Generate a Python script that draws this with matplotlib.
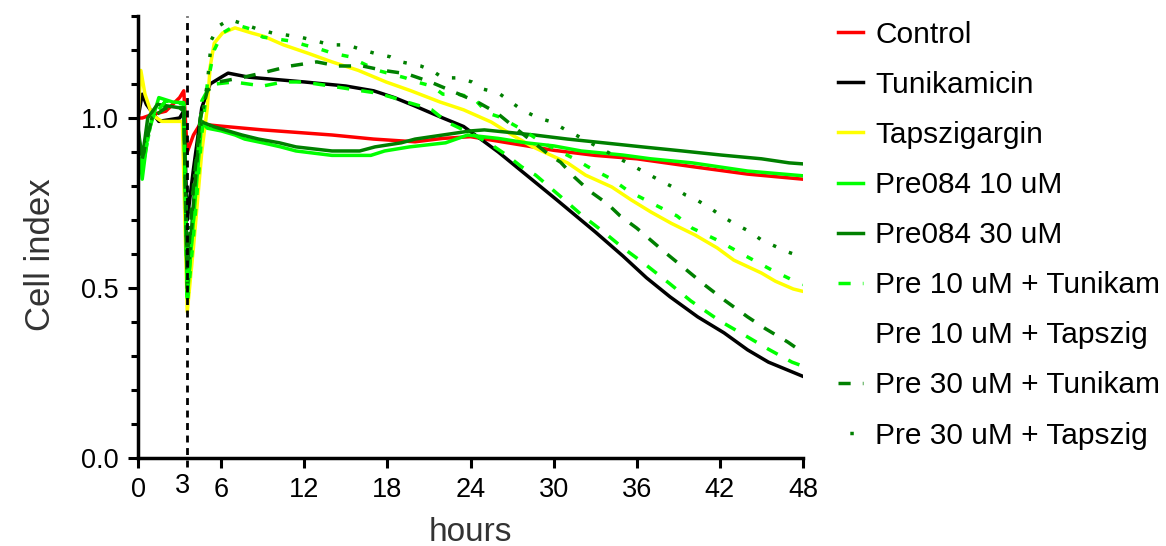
import matplotlib
matplotlib.use('Agg')
import matplotlib.pyplot as plt
from matplotlib.lines import Line2D

plt.rcParams['font.family'] = ['Liberation Sans', 'DejaVu Sans']

# ─── DATA ─────────────────────────────────────────────────────────────────
control_h = [0, 0.3, 1, 2, 3, 3.3, 3.55, 4.0, 4.6, 5, 6, 9, 14, 17, 20, 22, 24, 27, 30, 33, 36, 40, 44, 48]
control_v = [1.0, 1.0, 1.01, 1.02, 1.06, 1.08, 0.9, 0.95, 0.99, 0.98, 0.976, 0.965, 0.95, 0.938, 0.93, 0.94,
             0.945, 0.925, 0.905, 0.89, 0.88, 0.857, 0.835, 0.82]

tunik_h = [0, 0.3, 0.6, 1.5, 3, 3.3, 3.55, 4.0, 4.6, 5.2, 6, 6.5, 8, 12, 15, 17, 18.5, 20, 22, 23.5, 25, 26,
           28.4, 30.2, 33, 35, 36.7, 38.4, 40.4, 42.3, 44, 45.5, 48]
tunik_v = [1.0, 1.07, 1.04, 0.99, 1.0, 1.02, 0.7, 0.85, 1.03, 1.1, 1.12, 1.132, 1.12, 1.106, 1.094, 1.08, 1.06,
           1.035, 1.0, 0.975, 0.93, 0.9, 0.82, 0.76, 0.665, 0.594, 0.53, 0.474, 0.415, 0.368, 0.318, 0.282, 0.24]

taps_h = [0, 0.2, 0.5, 1, 1.7, 3.2, 3.55, 4.0, 4.6, 5.0, 5.2, 5.5, 6.1, 7.0, 8.2, 9.1, 10.5, 12.3, 14, 15.9,
          17.9, 19.7, 21.8, 23.5, 25.5, 27, 28.5, 31, 32.3, 34.2, 35.6, 37, 38.5, 40.2, 41.8, 43, 45, 46, 47.3, 48]
taps_v = [1.0, 1.14, 1.07, 1.01, 0.99, 0.99, 0.43, 0.62, 0.9, 1.03, 1.15, 1.22, 1.25, 1.265, 1.25, 1.24, 1.215,
          1.19, 1.165, 1.14, 1.106, 1.08, 1.047, 1.024, 0.988, 0.95, 0.915, 0.868, 0.832, 0.797, 0.759, 0.724,
          0.69, 0.656, 0.618, 0.582, 0.544, 0.52, 0.497, 0.49]

pre10_h = [0, 0.3, 0.7, 1.5, 2.5, 3.3, 3.55, 4.0, 4.6, 5.0, 6.0, 7.0, 7.7, 9, 10.3, 11.4, 14, 16.8, 17.8, 19.6,
           22.2, 23.8, 26, 28, 30, 32, 35, 37, 40, 42, 44, 48]
pre10_v = [0.97, 0.82, 0.95, 1.06, 1.047, 1.045, 0.47, 0.7, 0.99, 0.97, 0.962, 0.95, 0.938, 0.927, 0.915, 0.903,
           0.89, 0.89, 0.903, 0.915, 0.927, 0.95, 0.94, 0.927, 0.918, 0.903, 0.891, 0.88, 0.868, 0.856, 0.844, 0.83]

pre30_h = [0, 0.3, 0.7, 1.4, 3, 3.3, 3.55, 4.0, 4.5, 5.5, 6.5, 7.5, 8.7, 10.2, 11.4, 14, 16, 17.1, 19, 20, 22,
           24, 25, 28.6, 31, 33.6, 36.4, 39.3, 42.1, 45, 47, 48]
pre30_v = [0.97, 0.88, 1.0, 1.04, 1.03, 1.02, 0.5, 0.75, 0.99, 0.974, 0.962, 0.95, 0.938, 0.927, 0.915, 0.903,
           0.903, 0.915, 0.927, 0.938, 0.95, 0.962, 0.965, 0.95, 0.938, 0.927, 0.915, 0.903, 0.891, 0.88, 0.868, 0.865]

p10tun_h = [0, 0.3, 1, 2, 3.3, 3.55, 4.0, 4.6, 5.0, 5.6, 6.9, 9, 10.5, 11.9, 13.9, 15.8, 17.3, 18.4, 19.4, 20.4,
            21.2, 22.3, 24, 25.3, 26.6, 27.7, 28.7, 29.7, 30.7, 32.1, 33.6, 35, 36.6, 38.4, 39.9, 42, 44, 45.5,
            47.2, 48]
p10tun_v = [0.95, 0.85, 1.0, 1.05, 1.04, 0.48, 0.7, 1.05, 1.08, 1.1, 1.106, 1.094, 1.106, 1.106, 1.094, 1.082,
            1.073, 1.06, 1.047, 1.035, 1.024, 0.988, 0.955, 0.927, 0.891, 0.856, 0.832, 0.797, 0.762, 0.712, 0.665,
            0.618, 0.57, 0.512, 0.462, 0.403, 0.356, 0.32, 0.282, 0.27]

p10tap_h = [0, 0.3, 1, 2, 3.3, 3.55, 4.0, 4.6, 5.0, 5.5, 6.1, 7.1, 8.1, 9, 11.1, 12, 13.1, 14.1, 15.3, 16, 17.3,
            18.2, 19.3, 20.1, 21.2, 22, 23.1, 24.2, 25.2, 26.1, 27.9, 29.2, 31.5, 32.5, 34.2, 35.4, 37.2, 38.9,
            40, 41.8, 43.6, 45.6, 47.4, 48]
p10tap_v = [0.95, 0.85, 1.0, 1.05, 1.04, 0.45, 0.65, 0.95, 1.1, 1.2, 1.25, 1.274, 1.262, 1.238, 1.226, 1.215,
            1.203, 1.19, 1.18, 1.165, 1.14, 1.13, 1.118, 1.106, 1.094, 1.07, 1.07, 1.06, 1.015, 1.003, 0.962,
            0.927, 0.88, 0.856, 0.82, 0.785, 0.747, 0.712, 0.676, 0.641, 0.6, 0.556, 0.52, 0.51]

p30tun_h = [0, 0.3, 1, 2, 3.3, 3.55, 4.0, 4.5, 5.0, 5.8, 7.4, 8.7, 11, 12.9, 14.4, 16.2, 17.7, 19.4, 21.1, 22.5,
            24.5, 25.9, 27.4, 29.7, 30.5, 31.5, 32.6, 33.9, 34.8, 36, 37, 38, 39.5, 40.9, 42.4, 44, 45.3, 46.9, 48]
p30tun_v = [0.95, 0.88, 1.0, 1.03, 1.03, 0.55, 0.8, 1.0, 1.08, 1.106, 1.118, 1.13, 1.153, 1.165, 1.153, 1.153,
            1.14, 1.13, 1.106, 1.082, 1.047, 1.015, 0.965, 0.891, 0.87, 0.826, 0.785, 0.747, 0.712, 0.676, 0.641,
            0.606, 0.556, 0.509, 0.462, 0.415, 0.38, 0.341, 0.31]

p30tap_h = [0, 0.3, 1, 2, 3.3, 3.55, 4.0, 4.6, 5.0, 5.3, 5.8, 6.6, 7.7, 8.6, 9.7, 11.7, 12.9, 13.9, 15.1, 16,
            17.1, 18.2, 19, 20.4, 21.2, 22, 23.1, 24.1, 24.9, 26, 27.7, 28.9, 29.9, 31, 31.6, 37.5, 38.6, 39.5,
            40.2, 41.3, 42.1, 43.1, 44.2, 45, 46.9, 48]
p30tap_v = [0.95, 0.88, 1.0, 1.03, 1.03, 0.6, 0.8, 1.0, 1.1, 1.23, 1.27, 1.29, 1.275, 1.262, 1.25, 1.238, 1.226,
            1.215, 1.215, 1.203, 1.19, 1.18, 1.165, 1.153, 1.14, 1.118, 1.118, 1.106, 1.085, 1.074, 1.024, 1.0,
            0.988, 0.962, 0.95, 0.82, 0.797, 0.774, 0.762, 0.735, 0.712, 0.688, 0.665, 0.641, 0.606, 0.59]

x_ticks = [0, 6, 12, 18, 24, 30, 36, 42, 48]
y_ticks = [0.0, 0.5, 1.0]

RED, BLACK, YELLOW, LIME, DKGREEN = '#ff0000', '#000000', '#ffff00', '#00ff00', '#008000'

# ─── FIGURE ────────────────────────────────────────────────────────────────
fig = plt.figure(figsize=(11.66, 5.46), dpi=100)
ax = fig.add_axes([0.1184, 0.1612, 0.5703, 0.8095])

lw = 2.5
ax.plot(control_h, control_v, color=RED, lw=lw, label='Control')
ax.plot(tunik_h, tunik_v, color=BLACK, lw=lw, label='Tunikamicin')
ax.plot(taps_h, taps_v, color=YELLOW, lw=lw, label='Tapszigargin')
ax.plot(pre10_h, pre10_v, color=LIME, lw=lw, label='Pre084 10 uM')
ax.plot(pre30_h, pre30_v, color=DKGREEN, lw=lw, label='Pre084 30 uM')
ax.plot(p10tun_h, p10tun_v, color=LIME, lw=lw, ls=(0, (3.5, 3.5)), label='Pre 10 uM + Tunikam')
ax.plot(p10tap_h, p10tap_v, color=LIME, lw=lw, ls=(0, (2, 4)), label='Pre 10 uM + Tapszig')
ax.plot(p30tun_h, p30tun_v, color=DKGREEN, lw=lw, ls=(0, (3.5, 3.5)), label='Pre 30 uM + Tunikam')
ax.plot(p30tap_h, p30tap_v, color=DKGREEN, lw=lw, ls=(1.6, (1, 4)), label='Pre 30 uM + Tapszig')

# time of treatment
ax.axvline(3.55, ymin=-0.02, ymax=1.0, color='black', lw=2, ls=(0, (2.5, 2)), clip_on=False)

ax.set_xlim(0, 48)
ax.set_ylim(0, 1.3)
ax.set_xticks(x_ticks)
ax.set_xticks([3.2], minor=True)
ax.set_xticklabels([str(t) for t in x_ticks], fontsize=19.5)
ax.set_xticklabels(['3'], minor=True, fontsize=19.5)
ax.set_yticks(y_ticks)
ax.set_yticklabels(['0.0', '0.5', '1.0'], fontsize=19.5)
ax.set_yticks([0.1, 0.2, 0.3, 0.4, 0.6, 0.7, 0.8, 0.9, 1.1, 1.2, 1.3], minor=True)

for s in ['top', 'right']:
    ax.spines[s].set_visible(False)
for s in ['left', 'bottom']:
    ax.spines[s].set_linewidth(2.5)
ax.tick_params(axis='both', which='major', length=7, width=2.2, pad=7)
ax.tick_params(axis='y', which='minor', length=5, width=2.2)
ax.tick_params(axis='x', which='minor', length=0, pad=11)

ax.set_xlabel('hours', fontsize=24, color='#333333', labelpad=10)
ax.set_ylabel('Cell index', fontsize=25, color='#333333')
ax.yaxis.set_label_coords(-0.122, 0.46)

handles, labels = ax.get_legend_handles_labels()
handles[6] = Line2D([], [], linestyle='none', color='none')
ax.legend(handles, labels, loc='upper left', bbox_to_anchor=(0.7185, 0.962),
          bbox_transform=fig.transFigure, frameon=False, fontsize=21.5,
          handlelength=0.83, handletextpad=0.43, labelspacing=0.74, borderpad=0,
          borderaxespad=0)

plt.savefig('out.png', dpi=100)
